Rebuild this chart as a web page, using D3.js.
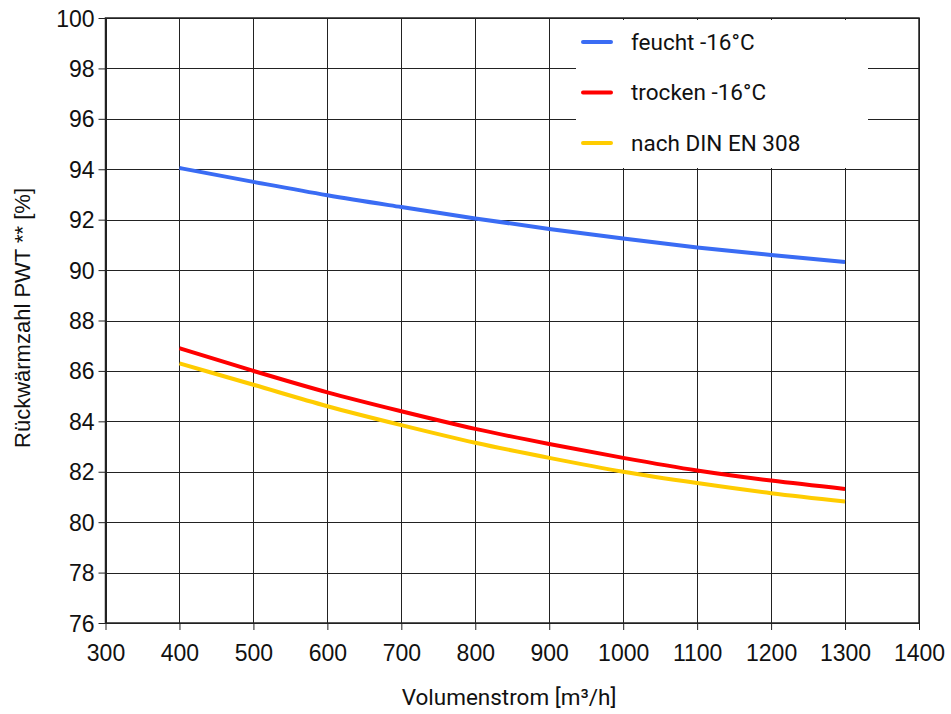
<!DOCTYPE html>
<html><head><meta charset="utf-8">
<script src="https://cdn.jsdelivr.net/npm/d3@7"></script>
<style>body{margin:0;background:#fff}svg{display:block}</style>
</head><body>
<script>
const xValues = [400,500,600,700,800,900,1000,1100,1200,1300];
const feucht = [94.05,93.5,92.97,92.5,92.05,91.63,91.25,90.9,90.6,90.32];
const trocken = [86.9,86.0,85.15,84.4,83.7,83.1,82.55,82.05,81.65,81.32];
const din = [86.3,85.45,84.6,83.85,83.15,82.55,82.0,81.55,81.15,80.82];
const seriesNames = ["feucht -16°C","trocken -16°C","nach DIN EN 308"];
const seriesColors = ["#3a6cf4","#ff0000","#ffcc00"];
const xTicks = [300,400,500,600,700,800,900,1000,1100,1200,1300,1400];
const yTicks = [76,78,80,82,84,86,88,90,92,94,96,98,100];

const W=951,H=714;
const m={l:105.5,r:919,t:18,b:623};
const svg=d3.select("body").append("svg").attr("width",W).attr("height",H);
const x=d3.scaleLinear().domain([300,1400]).range([m.l,m.r]);
const y=d3.scaleLinear().domain([76,100]).range([m.b,m.t]);
const tickFont="'Liberation Sans', Arial, sans-serif";
const txtFont="Roboto, 'Noto Sans', sans-serif";

// grid
const g=svg.append("g");
g.selectAll(".vx").data(xTicks).join("line")
 .attr("x1",d=>Math.round(x(d))+0.5).attr("x2",d=>Math.round(x(d))+0.5)
 .attr("y1",m.t).attr("y2",m.b).attr("stroke","#222").attr("stroke-width",1);
g.selectAll(".hy").data(yTicks).join("line")
 .attr("x1",m.l).attr("x2",m.r)
 .attr("y1",d=>Math.round(y(d))+0.5).attr("y2",d=>Math.round(y(d))+0.5)
 .attr("stroke","#222").attr("stroke-width",1);

// axes
const xa=svg.append("g").attr("transform",`translate(0,${m.b})`)
 .call(d3.axisBottom(x).tickValues(xTicks).tickSize(7).tickPadding(15).tickFormat(d3.format("d")));
const ya=svg.append("g").attr("transform",`translate(${m.l},0)`)
 .call(d3.axisLeft(y).tickValues(yTicks).tickSize(7).tickPadding(4).tickFormat(d3.format("d")));
[xa,ya].forEach(a=>{a.select(".domain").remove();
 a.selectAll("text").attr("font-family",tickFont).attr("font-size",23).attr("fill","#111");
 a.selectAll(".tick line").attr("stroke","#222");});
ya.selectAll("text").attr("dy","0.35em");

// frame
svg.append("rect").attr("x",m.l).attr("y",m.t).attr("width",m.r-m.l).attr("height",m.b-m.t)
 .attr("fill","none").attr("stroke","#222").attr("stroke-width",1.5);

// lines
const allSeries=[feucht,trocken,din];
const line=d3.line().x((d,i)=>x(xValues[i])).y(d=>y(d)).curve(d3.curveMonotoneX);
allSeries.forEach((s,i)=>{
 svg.append("path").datum(s).attr("d",line).attr("fill","none")
  .attr("stroke",seriesColors[i]).attr("stroke-width",4);
});

// legend
const lg=svg.append("g");
lg.append("rect").attr("x",576).attr("y",20).attr("width",292).attr("height",148).attr("fill","#fff");
seriesNames.forEach((n,i)=>{
 const yy=42+i*50.5;
 lg.append("line").attr("x1",583).attr("x2",611).attr("y1",yy).attr("y2",yy)
  .attr("stroke",seriesColors[i]).attr("stroke-width",4).attr("stroke-linecap","round");
 lg.append("text").attr("x",631).attr("y",yy).attr("dy","0.35em").text(n)
  .attr("font-family",txtFont).attr("font-size",22.5).attr("fill","#111");
});

// titles
svg.append("text").attr("x",509).attr("y",697).attr("dy","0.35em").attr("text-anchor","middle")
 .attr("font-family",txtFont).attr("font-size",22.5).attr("fill","#111").text("Volumenstrom [m³/h]");
svg.append("text").attr("transform","translate(22,318) rotate(-90)").attr("dy","0.35em").attr("text-anchor","middle")
 .attr("font-family",tickFont).attr("font-size",22).attr("fill","#111").text("Rückwärmzahl PWT **  [%]");
</script>
</body></html>
